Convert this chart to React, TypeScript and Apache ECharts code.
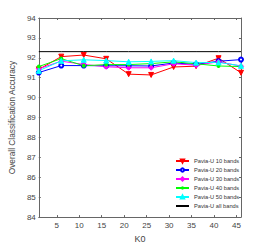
import React, { useEffect, useRef } from "react";
import * as echarts from "echarts";

const k0 = [1, 6, 11, 16, 21, 26, 31, 36, 41, 46];
const xTicks = [5, 10, 15, 20, 25, 30, 35, 40, 45];
const bands10 = [91.42, 92.06, 92.14, 91.95, 91.18, 91.14, 91.54, 91.58, 91.98, 91.25];
const bands20 = [91.26, 91.61, 91.61, 91.6, 91.6, 91.59, 91.74, 91.67, 91.83, 91.91];
const bands30 = [91.45, 91.83, 91.67, 91.55, 91.5, 91.5, 91.7, 91.63, 91.8, 91.58];
const bands40 = [91.56, 91.96, 91.6, 91.66, 91.66, 91.71, 91.8, 91.7, 91.59, 91.56];
const bands50 = [91.35, 91.85, 91.9, 91.86, 91.8, 91.82, 91.86, 91.76, 91.77, 91.6];
const bandsAll = [92.31, 92.31, 92.31, 92.31, 92.31, 92.31, 92.31, 92.31, 92.31, 92.31];

const names = [
  "Pavia-U 10 bands",
  "Pavia-U 20 bands",
  "Pavia-U 30 bands",
  "Pavia-U 40 bands",
  "Pavia-U 50 bands",
  "Pavia-U all bands",
];

const asterisk =
  "path://M5,0 L5,10 M0,5 L10,5 M1.5,1.5 L8.5,8.5 M8.5,1.5 L1.5,8.5";

export default function App() {
  const ref = useRef<HTMLDivElement>(null);
  useEffect(() => {
    const chart = echarts.init(ref.current!, null, { renderer: "svg" });
    const pair = (arr: number[]) => k0.map((x, i) => [x, arr[i]]);
    const mk = (
      name: string,
      data: number[],
      color: string,
      symbol: string,
      size: number,
      extra: any = {}
    ) => ({
      name,
      type: "line",
      data: pair(data),
      symbol,
      symbolSize: size,
      showSymbol: true,
      lineStyle: { color, width: 1 },
      itemStyle: { color, borderColor: color, borderWidth: 1 },
      ...extra,
    });
    const axisColor = "#666";
    const font = "Liberation Sans";
    chart.setOption({
      animation: false,
      backgroundColor: "#fff",
      grid: { left: 35, right: 25, top: 18, bottom: 27, show: false },
      legend: {
        orient: "vertical",
        left: 170,
        top: 153,
        itemWidth: 13,
        itemHeight: 4,
        itemGap: 3,
        textStyle: { fontSize: 5.7, color: "#333", fontFamily: font },
        data: [
          ...names.slice(0, 5),
          { name: names[5], itemStyle: { opacity: 0 } },
        ],
      },
      xAxis: [
        {
          type: "value",
          min: 1,
          max: 46,
          name: "K0",
          nameLocation: "middle",
          nameGap: 14,
          nameTextStyle: { fontSize: 9, color: "#444", fontFamily: font },
          axisLine: { show: true, lineStyle: { color: axisColor, width: 1 } },
          axisTick: { inside: true, length: 2, customValues: xTicks, lineStyle: { color: axisColor } },
          axisLabel: { customValues: xTicks, fontSize: 8, color: "#444", margin: 4, fontFamily: font },
          splitLine: { show: false },
        },
        {
          type: "value",
          position: "top",
          min: 1,
          max: 46,
          axisLine: { show: true, lineStyle: { color: axisColor, width: 1 } },
          axisTick: { inside: true, length: 2, customValues: xTicks, lineStyle: { color: axisColor } },
          axisLabel: { show: false },
          splitLine: { show: false },
        },
      ],
      yAxis: [
        {
          type: "value",
          min: 84,
          max: 94,
          interval: 1,
          name: "Overall Classification Accuracy",
          nameLocation: "middle",
          nameGap: 11,
          nameTextStyle: { fontSize: 8.3, color: "#444", fontFamily: font },
          axisLine: { show: true, lineStyle: { color: axisColor, width: 1 } },
          axisTick: { show: true, inside: true, length: 2, lineStyle: { color: axisColor } },
          axisLabel: { fontSize: 8, color: "#444", margin: 3, fontFamily: font },
          splitLine: { show: false },
        },
        {
          type: "value",
          position: "right",
          min: 84,
          max: 94,
          interval: 1,
          axisLine: { show: true, lineStyle: { color: axisColor, width: 1 } },
          axisTick: { show: true, inside: true, length: 2, lineStyle: { color: axisColor } },
          axisLabel: { show: false },
          splitLine: { show: false },
        },
      ],
      series: [
        mk(names[0], bands10, "#ff0000", "triangle", 5, { symbolRotate: 180 }),
        mk(names[1], bands20, "#0000ff", "emptyCircle", 4),
        mk(names[2], bands30, "#ff00ff", "diamond", 5),
        mk(names[3], bands40, "#00ff00", asterisk, 4, {
          itemStyle: { color: "#00ff00", borderColor: "#00ff00", borderWidth: 1.2 },
        }),
        mk(names[4], bands50, "#00ffff", "triangle", 5),
        {
          name: names[5],
          type: "line",
          data: pair(bandsAll),
          symbol: "none",
          lineStyle: { color: "#000", width: 1 },
          itemStyle: { color: "#000" },
        },
      ],
    });
    return () => chart.dispose();
  }, []);
  return (
    <div
      ref={ref}
      style={{ position: "absolute", left: 0, top: 0, width: 266, height: 248 }}
    />
  );
}
